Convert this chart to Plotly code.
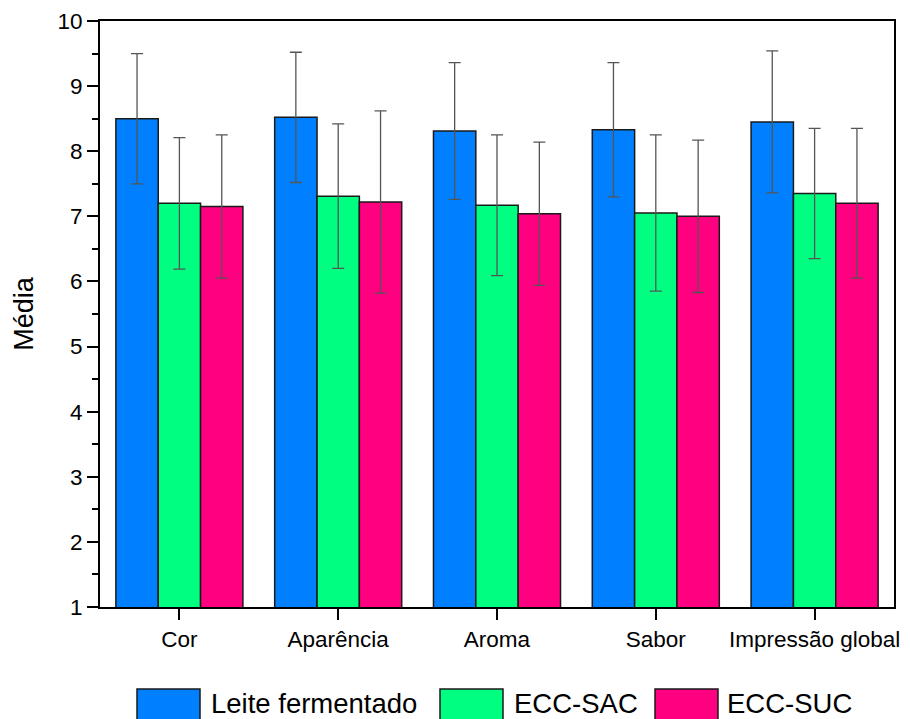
import plotly.graph_objects as go

categories = ["Cor", "Aparência", "Aroma", "Sabor", "Impressão global"]
series_names = ["Leite fermentado", "ECC-SAC", "ECC-SUC"]
leite = [8.50, 8.52, 8.31, 8.33, 8.45]
leite_sd = [1.00, 1.00, 1.05, 1.03, 1.09]
sac = [7.20, 7.31, 7.17, 7.05, 7.35]
sac_sd = [1.01, 1.11, 1.08, 1.20, 1.00]
suc = [7.15, 7.22, 7.04, 7.00, 7.20]
suc_sd = [1.10, 1.40, 1.10, 1.17, 1.15]
colors = ["#0080FF", "#00FF80", "#FF0080"]
y_ticks = [1, 2, 3, 4, 5, 6, 7, 8, 9, 10]

FONT = "Liberation Sans, Arial, sans-serif"

fig = go.Figure()
for name, vals, sds, col in zip(series_names, [leite, sac, suc], [leite_sd, sac_sd, suc_sd], colors):
    fig.add_trace(go.Bar(
        name=name, x=categories, y=vals,
        marker=dict(color=col, line=dict(color="#1a1a1a", width=1.5)),
        error_y=dict(type="data", array=sds, visible=True, color="#555555", thickness=1.3, width=6),
        showlegend=False,
    ))

# plot area geometry
L, R, T, B = 100, 16, 21, 112
W, H = 910, 719
pw, ph = W - L - R, H - T - B

def px(x):
    return (x - L) / pw

def py(y):
    return (H - B - y) / ph

shapes = []
annotations = []
legend_items = [(137, 200, 209), (440, 503, 512), (655, 718, 725)]
for (x0, x1, tx), name, col in zip(legend_items, series_names, colors):
    shapes.append(dict(type="rect", xref="paper", yref="paper",
                       x0=px(x0), x1=px(x1), y0=py(689), y1=py(730),
                       fillcolor=col, line=dict(color="#1a1a1a", width=1.5)))
    annotations.append(dict(xref="paper", yref="paper", x=px(tx), y=py(703),
                            xanchor="left", yanchor="middle", showarrow=False,
                            text=name, font=dict(size=27.5, color="black", family=FONT)))

fig.update_layout(
    width=W, height=H,
    margin=dict(l=L, r=R, t=T, b=B, autoexpand=False),
    barmode="group", bargap=0.2, bargroupgap=0,
    plot_bgcolor="white", paper_bgcolor="white",
    font=dict(family=FONT, size=22, color="black"),
    shapes=shapes, annotations=annotations,
    showlegend=False,
)
fig.update_xaxes(
    range=[-0.5, 4.5], showgrid=False, showline=True, linecolor="black", linewidth=2,
    mirror=True, ticks="outside", ticklen=11, tickwidth=2, tickcolor="black",
    tickfont=dict(size=22.5, family=FONT, color="black"),
)
fig.update_yaxes(
    range=[1, 10], tickvals=y_ticks, showgrid=False, showline=True, linecolor="black",
    linewidth=2, mirror=True, ticks="outside", ticklen=11, tickwidth=2, tickcolor="black",
    minor=dict(dtick=0.5, ticks="outside", ticklen=6, tickwidth=2, tickcolor="black", showgrid=False),
    tickfont=dict(size=22.5, family=FONT, color="black"),
    title=dict(text="Média", font=dict(size=27, family=FONT, color="black"), standoff=16),
    zeroline=False,
)

fig.write_html("out.html")
